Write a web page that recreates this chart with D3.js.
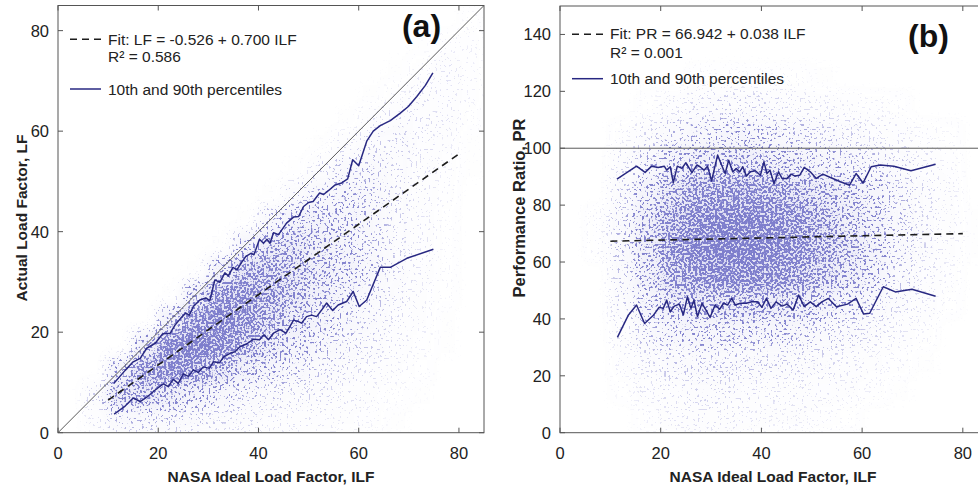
<!DOCTYPE html>
<html>
<head>
<meta charset="utf-8">
<script src="https://cdn.jsdelivr.net/npm/d3@7"></script>
<style>
  body { margin: 0; background: #fff; }
  svg { display: block; }
</style>
</head>
<body>
<script>
const width = 978;
const height = 487;

// bin lower edges for the point-density grids (data units)
const ilfBins = [0, 5, 10, 15, 20, 25, 30, 35, 40, 45, 50, 55, 60, 65, 70, 75, 80];
const lfBins = [80, 75, 70, 65, 60, 55, 50, 45, 40, 35, 30, 25, 20, 15, 10, 5, 0];
const prBins = [140, 130, 120, 110, 100, 90, 80, 70, 60, 50, 40, 30, 20, 10, 0];

// relative density of the scatter cloud, panel (a), rows = LF bins, cols = ILF bins
const densA = [
  [0,0,0,0,0,0,0,0,0,0,0,0,0,0,0,0,0.2],
  [0,0,0,0,0,0,0,0,0,0,0,0,0,0,0.1,0.3,0.3],
  [0,0,0,0,0,0,0,0,0,0,0,0,0,0.1,0.3,0.5,0.3],
  [0,0,0,0,0,0,0,0,0,0,0,0,0.1,0.3,0.6,0.5,0.3],
  [0,0,0,0,0,0,0,0,0,0,0,0.1,0.5,0.8,0.7,0.5,0.2],
  [0,0,0,0,0,0,0,0,0,0,0.1,0.6,1.0,1.0,0.7,0.4,0.1],
  [0,0,0,0,0,0,0,0,0,0.1,0.8,1.5,1.5,1.0,0.6,0.3,0.1],
  [0,0,0,0,0,0,0,0,0.1,1.2,2.0,2.2,1.8,1.0,0.6,0.3,0],
  [0,0,0,0,0,0,0,0.1,1.8,3.0,3.0,2.5,1.8,1.0,0.5,0.2,0],
  [0,0,0,0,0,0,0.1,2.5,4.5,4.5,3.5,2.8,1.8,1.0,0.5,0.2,0],
  [0,0,0,0,0,0.1,3.0,6.0,6.0,5.0,4.0,3.0,2.0,1.0,0.5,0.2,0],
  [0,0,0,0,0.1,3.5,7.0,7.5,6.5,5.0,3.5,2.5,1.5,0.8,0.4,0.2,0],
  [0,0,0,0,3.5,7.5,8.5,7.5,5.5,4.0,2.8,2.0,1.2,0.7,0.4,0.1,0],
  [0,0,0,3.5,8.0,9.0,8.0,6.0,4.0,3.0,2.0,1.4,1.0,0.6,0.3,0.1,0],
  [0,0,3.0,7.0,8.0,7.0,5.0,3.5,2.5,1.8,1.3,1.0,0.6,0.4,0.2,0,0],
  [0,1.0,5.0,5.0,4.0,3.0,2.2,1.6,1.2,1.0,0.8,0.6,0.4,0.2,0.1,0,0],
  [0,0.5,1.5,1.5,1.5,1.2,1.0,0.8,0.7,0.6,0.5,0.4,0.3,0.1,0,0,0]
];

// relative density of the scatter cloud, panel (b), rows = PR bins, cols = ILF bins
const densB = [
  [0,0,0,0,0,0,0,0,0,0,0,0,0,0,0,0,0],
  [0,0,0,0,0,0,0,0,0,0,0,0,0,0,0,0,0],
  [0,0,0,0,0,0.2,0.2,0.2,0.2,0.2,0.1,0,0,0,0,0,0],
  [0,0,0,0.2,0.5,0.8,1.0,1.0,0.8,0.6,0.5,0.4,0.3,0.2,0,0,0],
  [0,0,0.3,0.8,1.5,2.0,2.3,2.3,2.0,1.6,1.3,1.0,0.7,0.5,0.3,0.2,0],
  [0,0,0.8,1.8,3.0,3.8,4.0,4.0,3.5,3.0,2.5,2.0,1.5,1.0,0.6,0.3,0],
  [0,0,1.2,3.0,5.0,6.5,7.0,7.0,6.5,5.5,4.5,3.5,2.5,1.5,0.8,0.4,0],
  [0,0.3,1.5,4.0,6.5,8.0,8.5,8.5,8.0,7.0,5.5,4.0,2.8,1.6,0.8,0.4,0.1],
  [0,0.3,1.5,4.0,7.0,8.5,9.0,9.0,8.5,7.5,6.0,4.5,3.0,1.6,0.8,0.4,0.1],
  [0,0,1.3,3.5,6.0,7.5,8.0,8.0,7.5,6.5,5.0,3.8,2.5,1.3,0.7,0.3,0],
  [0,0,1.0,2.5,4.0,4.5,4.8,4.8,4.5,4.0,3.0,2.2,1.5,0.8,0.5,0.2,0],
  [0,0,0.6,1.5,2.2,2.5,2.5,2.3,2.2,2.0,1.5,1.2,0.8,0.5,0.3,0,0],
  [0,0,0.4,0.8,1.2,1.3,1.3,1.2,1.1,1.0,0.8,0.6,0.4,0.3,0.1,0,0],
  [0,0,0.2,0.5,0.7,0.8,0.8,0.7,0.6,0.6,0.5,0.4,0.3,0.1,0,0,0],
  [0,0,0,0.3,0.5,0.6,0.6,0.5,0.4,0.4,0.3,0.2,0,0,0,0,0]
];

// 90th and 10th percentile curves [ILF, value]
const p90A = [[11.2,9.9],[13.4,12.4],[15.0,14.1],[16.4,14.8],[17.7,16.8],[19.4,17.8],[20.9,19.7],[22.4,19.8],[23.4,21.5],[24.5,22.8],[25.5,23.8],[26.2,23.4],[27.0,25.1],[28.3,26.4],[29.5,26.8],[30.3,26.3],[31.3,30.4],[32.3,29.9],[33.3,31.8],[34.0,31.2],[34.9,32.9],[35.7,32.4],[36.5,33.7],[37.5,35.1],[38.5,35.7],[39.1,35.4],[40.2,38.5],[41.0,37.7],[41.7,38.5],[42.3,37.7],[43.0,39.8],[44.0,39.4],[45.6,41.7],[47.0,42.9],[48.0,43.0],[49.0,45.0],[50.0,45.8],[50.9,46.0],[52.2,47.7],[53.0,47.4],[54.0,48.2],[55.3,49.3],[56.6,49.7],[57.8,50.5],[58.8,54.3],[60.0,53.1],[61.6,58.0],[62.9,60.0],[64.3,61.1],[66.3,62.1],[68.3,63.6],[69.9,64.9],[71.6,66.9],[73.3,69.1],[74.8,71.6]];
const p10A = [[11.2,3.7],[13.4,5.3],[15.0,6.9],[16.4,6.2],[18.0,7.3],[19.4,8.5],[21.0,9.7],[22.0,9.2],[23.0,10.6],[24.0,9.8],[25.0,11.7],[26.0,11.2],[27.0,12.5],[28.0,12.0],[29.0,13.1],[30.2,12.8],[31.0,14.1],[32.2,13.9],[33.1,15.1],[34.3,15.8],[35.3,16.1],[36.3,17.1],[37.7,17.7],[39.0,18.6],[40.2,18.5],[41.1,19.5],[42.0,18.5],[43.0,19.8],[44.3,20.5],[45.5,19.8],[47.0,22.4],[48.0,22.1],[48.6,21.8],[49.6,23.1],[50.6,23.4],[51.6,23.1],[52.6,24.4],[53.6,25.8],[54.8,24.3],[55.9,25.4],[57.6,26.1],[58.9,28.1],[60.1,25.1],[61.6,26.4],[64.3,32.9],[66.3,32.9],[69.6,34.7],[74.9,36.5]];
const p90B = [[11.3,89.1],[15.2,93.7],[16.9,91.5],[18.2,93.7],[19.5,93.2],[20.7,93.7],[21.2,92.3],[21.9,93.5],[22.5,87.8],[23.3,93.7],[24.2,92.9],[25.0,94.9],[26.2,91.4],[27.2,94.1],[27.8,93.5],[28.6,92.3],[29.3,93.7],[30.1,88.5],[31.3,97.6],[31.9,94.9],[32.8,91.1],[33.5,95.8],[34.3,91.7],[35.0,92.9],[35.7,91.7],[36.3,93.5],[37.0,90.2],[37.8,91.7],[38.8,92.1],[39.8,90.5],[40.5,95.2],[41.1,91.1],[41.7,92.3],[42.5,87.6],[43.4,91.7],[44.1,89.4],[45.1,89.4],[45.9,90.9],[46.7,90.2],[47.6,90.5],[48.5,93.3],[49.7,91.7],[50.9,89.4],[52.2,90.9],[53.7,89.7],[55.7,88.2],[57.5,87.0],[58.8,91.1],[60.2,87.8],[61.8,93.5],[63.6,94.1],[66.3,93.7],[69.7,92.1],[74.6,94.4]];
const p10B = [[11.4,33.5],[13.6,41.4],[15.2,44.9],[16.8,38.4],[18.6,41.4],[19.7,44.1],[20.5,43.7],[21.2,46.6],[21.9,42.5],[22.7,44.5],[23.7,45.2],[24.5,41.4],[25.3,47.8],[26.0,43.7],[26.6,46.6],[27.3,40.8],[28.2,45.5],[29.0,43.1],[29.8,40.5],[30.8,44.9],[31.7,43.4],[32.5,45.5],[33.3,44.9],[34.1,47.2],[34.8,44.9],[35.8,45.5],[37.0,45.5],[38.1,46.0],[39.2,46.0],[40.1,44.1],[41.0,47.2],[41.9,43.7],[42.9,46.0],[44.1,44.5],[45.1,45.2],[46.3,43.1],[47.4,48.4],[48.5,44.3],[49.7,46.0],[50.9,44.3],[52.0,46.0],[53.3,47.2],[54.9,44.3],[57.1,45.2],[58.8,47.2],[60.3,41.7],[61.5,42.0],[64.2,51.3],[66.6,49.5],[69.9,50.4],[74.6,48.0]];

// linear fits [intercept, slope] and the ILF span they are drawn over
const fitA = [-0.526, 0.700];
const fitB = [66.942, 0.038];
const fitSpan = [10, 80];

const xTicks = [0, 20, 40, 60, 80];
const yTicksA = [0, 20, 40, 60, 80];
const yTicksB = [0, 20, 40, 60, 80, 100, 120, 140];

const legendA = ['Fit: LF = -0.526 + 0.700 ILF', 'R\u00b2 = 0.586', '10th and 90th percentiles'];
const legendB = ['Fit: PR = 66.942 + 0.038 ILF', 'R\u00b2 = 0.001', '10th and 90th percentiles'];

const font = "'Liberation Sans', Arial, Helvetica, sans-serif";

const svg = d3.select('body')
  .append('svg')
  .attr('width', width)
  .attr('height', height);

const defs = svg.append('defs');

const panels = [
  {
    id: 'a',
    x: d3.scaleLinear().domain([0, 85]).range([58, 484]),
    y: d3.scaleLinear().domain([0, 85]).range([432.7, 5.5]),
    dens: densA, rows: lfBins, rowStep: 5,
    p90: p90A, p10: p10A, fit: fitA,
    refLine: [[0, 0], [85, 85]],
    yTicks: yTicksA,
    yTitle: 'Actual Load Factor, LF', yTitleX: 27, yTitleY: 218, yTitleSize: 15.5,
    legend: legendA, legX: 70, legY: [39.3, 89], textY: [44.5, 62, 94.5],
    tag: '(a)', tagX: 421.5, tagY: 37, seed: 4
  },
  {
    id: 'b',
    x: d3.scaleLinear().domain([0, 85]).range([560, 988]),
    y: d3.scaleLinear().domain([0, 150]).range([432.7, 6]),
    dens: densB, rows: prBins, rowStep: 10,
    p90: p90B, p10: p10B, fit: fitB,
    refLine: [[0, 100], [85, 100]],
    yTicks: yTicksB,
    yTitle: 'Performance Ratio, PR', yTitleX: 525, yTitleY: 208, yTitleSize: 16.5,
    legend: legendB, legX: 572, legY: [34.3, 78.7], textY: [39, 57.5, 84],
    tag: '(b)', tagX: 928.5, tagY: 47, seed: 11
  }
];

panels.forEach((p) => {
  const [x0, x1] = p.x.range();
  const [yb, yt] = p.y.range();
  const g = svg.append('g');

  // clip + grain filter for the scatter cloud
  defs.append('clipPath').attr('id', 'clip' + p.id)
    .append('rect')
    .attr('x', x0).attr('y', yt)
    .attr('width', x1 - x0).attr('height', yb - yt);

  const f = defs.append('filter')
    .attr('id', 'cloud' + p.id)
    .attr('filterUnits', 'userSpaceOnUse')
    .attr('x', x0).attr('y', yt)
    .attr('width', x1 - x0).attr('height', yb - yt)
    .attr('color-interpolation-filters', 'sRGB');
  f.append('feGaussianBlur').attr('in', 'SourceAlpha').attr('stdDeviation', 6).attr('result', 'dens');
  f.append('feTurbulence').attr('type', 'fractalNoise').attr('baseFrequency', 0.45)
    .attr('numOctaves', 1).attr('seed', p.seed).attr('result', 'noise');
  f.append('feColorMatrix').attr('in', 'noise').attr('type', 'matrix')
    .attr('values', '0 0 0 0 0  0 0 0 0 0  0 0 0 0 0  3 0 0 0 -1').attr('result', 'grain');
  f.append('feComposite').attr('in', 'dens').attr('in2', 'grain').attr('operator', 'arithmetic')
    .attr('k1', 0).attr('k2', 5).attr('k3', 5).attr('k4', -5).attr('result', 'dots0');
  f.append('feGaussianBlur').attr('in', 'dots0').attr('stdDeviation', 0.4).attr('result', 'dots');
  f.append('feFlood').attr('flood-color', '#5656bc').attr('flood-opacity', 0.7).attr('result', 'ink');
  f.append('feComposite').attr('in', 'ink').attr('in2', 'dots').attr('operator', 'in').attr('result', 'speck');
  f.append('feFlood').attr('flood-color', '#6c6cc8').attr('flood-opacity', 0.28).attr('result', 'ink2');
  f.append('feComposite').attr('in', 'ink2').attr('in2', 'dens').attr('operator', 'in').attr('result', 'haze');
  const merge = f.append('feMerge');
  merge.append('feMergeNode').attr('in', 'haze');
  merge.append('feMergeNode').attr('in', 'speck');

  const cells = [];
  p.dens.forEach((row, r) => row.forEach((v, c) => {
    if (v > 0) cells.push({ ilf: ilfBins[c], lo: p.rows[r], v: v });
  }));

  g.append('g').attr('clip-path', `url(#clip${p.id})`)
    .append('g').attr('filter', `url(#cloud${p.id})`)
    .selectAll('rect')
    .data(cells)
    .join('rect')
    .attr('x', (d) => p.x(d.ilf))
    .attr('y', (d) => p.y(d.lo + p.rowStep))
    .attr('width', (d) => p.x(d.ilf + 5) - p.x(d.ilf))
    .attr('height', (d) => p.y(d.lo) - p.y(d.lo + p.rowStep))
    .attr('fill', '#000')
    .attr('fill-opacity', (d) => Math.min(1, d.v / 9 * 0.82));

  const line = d3.line().x((d) => p.x(d[0])).y((d) => p.y(d[1]));

  // reference line (1:1 or PR = 100)
  g.append('path')
    .attr('d', line(p.refLine))
    .attr('clip-path', `url(#clip${p.id})`)
    .attr('fill', 'none').attr('stroke', '#5a5a5a').attr('stroke-width', 1);

  // fit line
  g.append('path')
    .attr('d', line(fitSpan.map((v) => [v, p.fit[0] + p.fit[1] * v])))
    .attr('fill', 'none').attr('stroke', '#1c1c1c').attr('stroke-width', 1.6)
    .attr('stroke-dasharray', '7,5');

  // percentile curves
  [p.p90, p.p10].forEach((s) => {
    g.append('path')
      .attr('d', line(s))
      .attr('fill', 'none').attr('stroke', '#282882').attr('stroke-width', 1.5)
      .attr('stroke-linejoin', 'round');
  });

  // frame
  g.append('rect')
    .attr('x', x0).attr('y', yt)
    .attr('width', x1 - x0).attr('height', yb - yt)
    .attr('fill', 'none').attr('stroke', '#555').attr('stroke-width', 1);

  // inward ticks on all four sides
  const tickLen = 5;
  xTicks.forEach((t) => {
    const xx = p.x(t);
    g.append('line').attr('x1', xx).attr('x2', xx).attr('y1', yb).attr('y2', yb - tickLen).attr('stroke', '#555');
    g.append('line').attr('x1', xx).attr('x2', xx).attr('y1', yt).attr('y2', yt + tickLen).attr('stroke', '#555');
    g.append('text').text(t)
      .attr('x', xx).attr('y', 458.5)
      .attr('text-anchor', 'middle')
      .attr('font-family', font).attr('font-size', 16.5).attr('fill', '#222');
  });
  p.yTicks.forEach((t) => {
    const yy = p.y(t);
    g.append('line').attr('x1', x0).attr('x2', x0 + tickLen).attr('y1', yy).attr('y2', yy).attr('stroke', '#555');
    g.append('line').attr('x1', x1).attr('x2', x1 - tickLen).attr('y1', yy).attr('y2', yy).attr('stroke', '#555');
    g.append('text').text(t)
      .attr('x', x0 - 9).attr('y', yy).attr('dy', '0.36em')
      .attr('text-anchor', 'end')
      .attr('font-family', font).attr('font-size', 16.5).attr('fill', '#222');
  });

  // axis titles
  g.append('text').text('NASA Ideal Load Factor, ILF')
    .attr('x', (58 + 484) / 2 + (x0 - 58)).attr('y', 482)
    .attr('text-anchor', 'middle')
    .attr('font-family', font).attr('font-size', 15.5).attr('font-weight', 'bold').attr('fill', '#222');
  g.append('text').text(p.yTitle)
    .attr('transform', `translate(${p.yTitleX},${p.yTitleY}) rotate(-90)`)
    .attr('text-anchor', 'middle')
    .attr('font-family', font).attr('font-size', p.yTitleSize).attr('font-weight', 'bold').attr('fill', '#222');

  // legend
  g.append('line')
    .attr('x1', p.legX).attr('x2', p.legX + 31).attr('y1', p.legY[0]).attr('y2', p.legY[0])
    .attr('stroke', '#1c1c1c').attr('stroke-width', 1.6).attr('stroke-dasharray', '7,5');
  g.append('line')
    .attr('x1', p.legX).attr('x2', p.legX + 31).attr('y1', p.legY[1]).attr('y2', p.legY[1])
    .attr('stroke', '#282882').attr('stroke-width', 1.5);
  p.legend.forEach((s, i) => {
    g.append('text').text(s)
      .attr('x', p.legX + 38).attr('y', p.textY[i])
      .attr('font-family', font).attr('font-size', 15.5).attr('fill', '#222');
  });

  // panel tag
  g.append('text').text(p.tag)
    .attr('x', p.tagX).attr('y', p.tagY)
    .attr('text-anchor', 'middle')
    .attr('font-family', font).attr('font-size', 32).attr('font-weight', 'bold').attr('fill', '#111');
});
</script>
</body>
</html>
